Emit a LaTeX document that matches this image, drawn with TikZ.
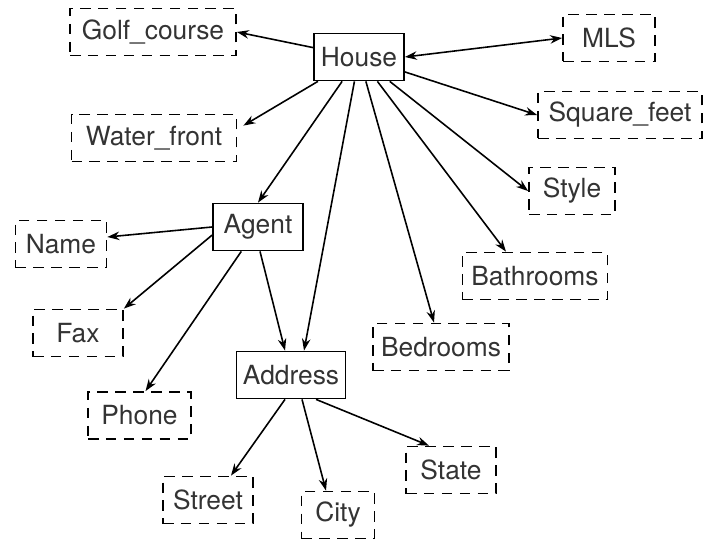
\documentclass[tikz,border=0pt]{standalone}
\usepackage{fontspec}
\setmainfont{TeX Gyre Heros}
\usetikzlibrary{arrows.meta}

\begin{document}
\begin{tikzpicture}[
    every node/.style={font=\fontsize{15}{17}\selectfont, text=black!80},
    entity/.style={draw, line width=1pt, minimum height=0.94cm, inner xsep=0.1cm},
    attrib/.style={entity, dash pattern=on 6pt off 4.2pt},
    conn/.style={-{Stealth[length=2.4mm,width=1.7mm]}, line width=0.9pt}
  ]
    \useasboundingbox (0,0) rectangle (14.12,10.82);

    % Entity boxes
    \node[entity, minimum width=1.8cm] (house) at (7.18,9.68) {House};
    \node[entity, minimum width=1.8cm] (agent) at (5.16,6.28) {Agent};
    \node[entity, minimum width=2.18cm] (addr) at (5.82,3.32) {Address};

    % Attribute boxes
    \foreach \n/\x/\y/\w/\t in {golf/3.06/10.18/3.32/Golf\_course, mls/12.18/10.06/1.84/MLS,
      water/3.08/8.06/3.3/Water\_front, sqft/12.40/8.52/3.28/Square\_feet,
      style/11.44/7.00/1.72/Style, bath/10.70/5.30/2.9/Bathrooms, bed/8.82/3.88/2.72/Bedrooms,
      name/1.22/5.94/1.82/Name, fax/1.56/4.16/1.8/Fax, phone/2.79/2.51/2.06/Phone,
      street/4.16/0.82/1.8/Street, city/6.76/0.52/1.46/City, state/9.02/1.42/1.8/State} {
      \node[attrib, minimum width=\w cm] (\n) at (\x,\y) {\t};
    }

    % House links
    \draw[conn] (house) -- (golf.east);
    \draw[conn] (house) -- ([shift={(0.12,-0.24)}]water.north east);
    \draw[conn, {Stealth[length=2.4mm,width=1.7mm]}-{Stealth[length=2.4mm,width=1.7mm]}] (house.east) -- (mls.west);
    \draw[conn] (house) -- (sqft.west);
    \draw[conn] (house) -- (style.west);
    \draw[conn] (house) -- ([xshift=-0.58cm]bath.north);
    \draw[conn] (house) -- ([xshift=-0.14cm]bed.north);
    \draw[conn] (house) -- ([xshift=0.26cm]addr.north);
    \draw[conn] (house) -- (agent.north);

    % Agent links
    \draw[conn] (agent.west) -- ([yshift=0.14cm]name.east);
    \draw[conn] (agent.190) -- (fax.north east);
    \draw[conn] (agent) -- ([xshift=0.12cm]phone.north);
    \draw[conn] ([xshift=0.04cm]agent.south) -- ([xshift=-0.12cm]addr.north);

    % Address links
    \draw[conn] ([xshift=-0.12cm]addr.south) -- ([xshift=0.46cm]street.north);
    \draw[conn] ([xshift=0.22cm]addr.south) -- ([xshift=-0.24cm]city.north);
    \draw[conn] ([xshift=0.5cm]addr.south) -- ([xshift=-0.44cm]state.north);
\end{tikzpicture}
\end{document}
